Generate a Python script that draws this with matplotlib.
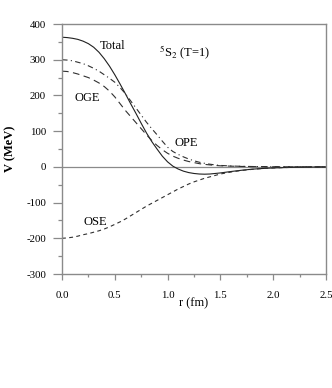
import matplotlib
matplotlib.use("Agg")
import matplotlib.pyplot as plt
from matplotlib.ticker import MultipleLocator

plt.rcParams['font.family'] = ['Liberation Serif', 'DejaVu Serif']
plt.rcParams['mathtext.fontset'] = 'stix'

# r grid (fm)
r = [0.0, 0.05, 0.1, 0.15, 0.2, 0.25, 0.3, 0.35, 0.4, 0.45, 0.5, 0.55, 0.6, 0.65, 0.7,
     0.75, 0.8, 0.85, 0.9, 0.95, 1.0, 1.05, 1.1, 1.15, 1.2, 1.25, 1.3, 1.35, 1.4, 1.45, 1.5,
     1.6, 1.7, 1.8, 1.9, 2.0, 2.1, 2.2, 2.3, 2.4, 2.5]

# potentials (MeV)
v_total = [363, 362, 360, 357, 352, 345, 335, 321, 303, 282, 258, 232, 205, 177, 150,
           122, 95, 71, 50, 30, 14, 2, -6, -12, -16, -18.5, -20, -20.5, -20, -18.5, -17,
           -13, -9.5, -6.5, -4.5, -3, -2, -1.3, -0.8, -0.4, -0.2]
v_ope = [300, 299, 297, 293, 289, 283, 276, 268, 258, 248, 237, 222, 205, 185, 165,
         145, 125, 107, 90, 72, 55, 43, 35, 28, 22, 17, 13, 10, 7.5, 5.5, 4,
         2.5, 1.5, 1, 0.6, 0.4, 0.3, 0.2, 0.1, 0.05, 0]
v_oge = [268, 267, 264, 260, 255, 250, 243, 235, 225, 212, 196, 177, 158, 141, 124,
         107, 90, 74, 60, 48, 38, 30, 24, 19, 15, 12, 9, 7, 5.5, 4, 3,
         2, 1.2, 0.8, 0.5, 0.3, 0.2, 0.1, 0.05, 0, 0]
v_ose = [-200, -199, -197, -194, -190, -187, -183, -179, -174, -168, -161, -154, -146, -137, -128,
         -119, -110, -102, -94, -86, -78, -70, -62, -55, -48, -42, -37, -32, -28, -24, -20,
         -14.5, -10, -7, -4.5, -3, -2, -1.3, -0.8, -0.4, -0.2]

fig = plt.figure(figsize=(3.32, 3.88), dpi=100)
ax = fig.add_axes([0.1867, 0.2938, 0.7952, 0.6443])

gray = '#8a8a8a'
ax.axhline(0, color=gray, lw=0.9, zorder=1)

ax.plot(r, v_total, color='#202020', lw=0.8, ls='-')
ax.plot(r, v_ope, color='#303030', lw=0.8, ls=(0, (5, 3, 1, 3)))
ax.plot(r, v_oge, color='#303030', lw=0.8, ls=(0, (6, 4)))
ax.plot(r, v_ose, color='#303030', lw=0.8, ls=(0, (3.5, 3)))

ax.set_xlim(0, 2.5)
ax.set_ylim(-300, 400)
ax.xaxis.set_major_locator(MultipleLocator(0.5))
ax.xaxis.set_minor_locator(MultipleLocator(0.25))
ax.yaxis.set_major_locator(MultipleLocator(100))
ax.yaxis.set_minor_locator(MultipleLocator(50))
ax.xaxis.set_major_formatter(lambda v, p: f"{v:.1f}")
ax.yaxis.set_major_formatter(lambda v, p: f"{v:.0f}")

for s in ax.spines.values():
    s.set_color(gray)
    s.set_linewidth(1.0)

ax.tick_params(axis='y', which='major', direction='out', length=6.5, width=0.9,
               color=gray, labelsize=7.8, pad=5)
ax.tick_params(axis='y', which='minor', direction='out', length=3, width=0.9, color=gray)
ax.tick_params(axis='x', which='major', direction='out', length=4.5, width=0.9,
               color=gray, labelsize=7.8, pad=8)
ax.tick_params(axis='x', which='minor', direction='out', length=2.2, width=0.9, color=gray)

ax.set_xlabel('r (fm)', fontsize=9, labelpad=-2)
ax.set_ylabel('V (MeV)', fontsize=9, fontweight='bold', labelpad=7)

ax.text(0.36, 339, 'Total', fontsize=9, va='center', ha='left')
ax.text(0.92, 318, r'$^{5}$S$_{2}$ (T=1)', fontsize=9, va='center', ha='left')
ax.text(0.12, 193, 'OGE', fontsize=9, va='center', ha='left')
ax.text(1.07, 66, 'OPE', fontsize=9, va='center', ha='left')
ax.text(0.2, -153, 'OSE', fontsize=9, va='center', ha='left')

fig.savefig('out.png', dpi=100)
